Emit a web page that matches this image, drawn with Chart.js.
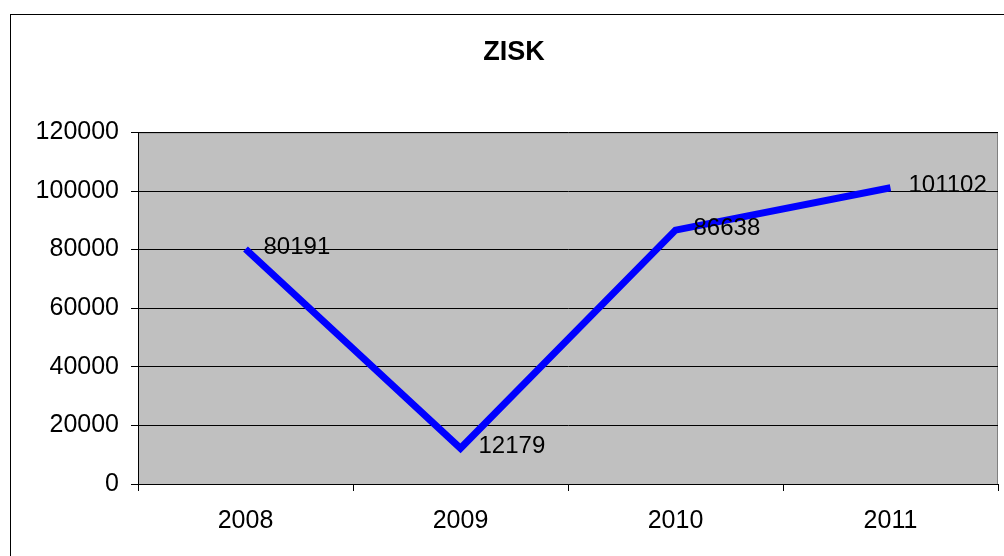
<!DOCTYPE html>
<html>
<head>
<meta charset="utf-8">
<script src="https://cdn.jsdelivr.net/npm/chart.js"></script>
<style>
  html, body { margin: 0; padding: 0; background: #fff; }
  #wrap { width: 1004px; height: 556px; position: relative; }
</style>
</head>
<body>
<div id="wrap"><canvas id="myChart"></canvas></div>
<script>
/* chart data */
const years = ["2008", "2009", "2010", "2011"];
const ziskValues = [80191, 12179, 86638, 101102];
const yTicks = [0, 20000, 40000, 60000, 80000, 100000, 120000];

const FONT = "'Liberation Sans', Arial, sans-serif";

// grey plot area + outer frame
const framePlugin = {
    id: "frame",
    beforeDraw(chart) {
        const c = chart.ctx;
        const a = chart.chartArea;
        c.save();
        c.fillStyle = "#fff";
        c.fillRect(0, 0, chart.width, chart.height);
        c.strokeStyle = "#000";
        c.lineWidth = 1;
        c.strokeRect(10.5, 14.5, chart.width + 20, chart.height + 20);
        c.fillStyle = "#c0c0c0";
        c.fillRect(a.left, a.top, a.right - a.left, a.bottom - a.top);
        c.strokeStyle = "#808080";
        c.beginPath();
        c.moveTo(a.left, a.top + 0.5);
        c.lineTo(a.right - 0.5, a.top + 0.5);
        c.lineTo(a.right - 0.5, a.bottom);
        c.stroke();
        c.restore();
    },
    afterDatasetsDraw(chart) {
        // value labels to the right of each point
        const c = chart.ctx;
        const meta = chart.getDatasetMeta(0);
        c.save();
        c.font = "24px " + FONT;
        c.fillStyle = "#000";
        c.textAlign = "left";
        c.textBaseline = "middle";
        meta.data.forEach((pt, i) => {
            c.fillText(String(ziskValues[i]), pt.x + 18, pt.y - 2);
        });
        c.restore();
    }
};

const ctx = document.getElementById("myChart");
const chart = new Chart(ctx, {
    type: "line",
    data: {
        labels: years,
        datasets: [{
            label: "ZISK",
            data: ziskValues,
            borderColor: "#0000ff",
            borderWidth: 7,
            borderCapStyle: "butt",
            borderJoinStyle: "miter",
            pointRadius: 0,
            pointHoverRadius: 0,
            tension: 0,
            fill: false
        }]
    },
    options: {
        responsive: true,
        maintainAspectRatio: false,
        animation: false,
        events: [],
        layout: { padding: { left: 30, right: 6, top: 0, bottom: 0 } },
        plugins: {
            legend: { display: false },
            tooltip: { enabled: false },
            title: {
                display: true,
                text: "ZISK",
                color: "#000",
                font: { family: FONT, size: 27, weight: "bold" },
                padding: { top: 36, bottom: 64 }
            }
        },
        scales: {
            x: {
                offset: true,
                grid: {
                    offset: true,
                    drawOnChartArea: false,
                    drawTicks: true,
                    tickLength: 7,
                    color: "#000"
                },
                border: { color: "#000", width: 1 },
                ticks: {
                    color: "#000",
                    padding: 15,
                    font: { family: FONT, size: 25 },
                    maxRotation: 0
                },
                afterFit(scale) { scale.height = 72; }
            },
            y: {
                min: 0,
                max: 120000,
                afterBuildTicks(scale) {
                    scale.ticks = yTicks.map(v => ({ value: v }));
                },
                grid: {
                    color: "#000",
                    tickLength: 7,
                    drawTicks: true
                },
                border: { color: "#000", width: 1 },
                ticks: {
                    color: "#000",
                    padding: 12,
                    font: { family: FONT, size: 25 },
                    callback: v => String(v)
                },
                afterFit(scale) { scale.width = 108; }
            }
        }
    },
    plugins: [framePlugin]
});
</script>
</body>
</html>
